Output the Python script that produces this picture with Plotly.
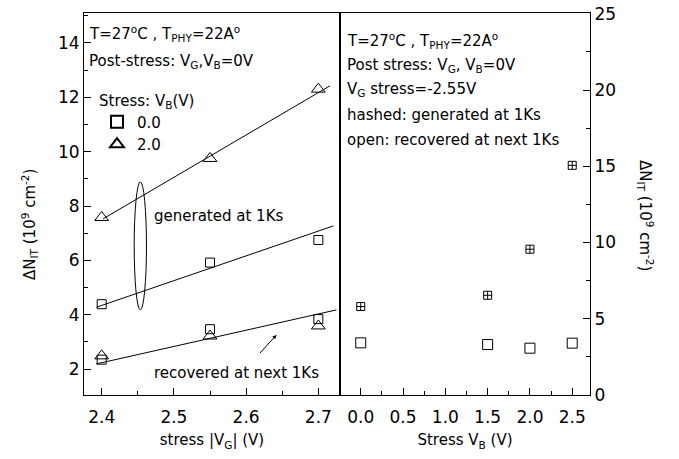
import plotly.graph_objects as go

# ---- data ----
vg = [2.4, 2.55, 2.7]
gen_vb0 = [4.39, 5.92, 6.75]
gen_vb2 = [7.58, 9.75, 12.3]
rec_vb0 = [2.35, 3.47, 3.84]
rec_vb2 = [2.49, 3.22, 3.59]

fit_gen_vb2_x = [2.402, 2.716]
fit_gen_vb2_y = [7.53, 12.42]
fit_gen_vb0_x = [2.393, 2.721]
fit_gen_vb0_y = [4.28, 7.27]
fit_rec_x = [2.392, 2.725]
fit_rec_y = [2.19, 4.18]

vb = [0.0, 1.5, 2.0, 2.5]
gen_right = [5.8, 6.54, 9.56, 15.06]
rec_right = [3.42, 3.31, 3.07, 3.40]

FONT = "DejaVu Sans"
BLK = "black"

L, R, T, B = 84, 679 - 590, 13, 459 - 395
PW = 506.0
PH = 382.0


def px(sx):
    return (sx - 84) / PW


def py(sy):
    return (395 - sy) / PH


fig = go.Figure()

for fx, fy in [(fit_gen_vb2_x, fit_gen_vb2_y), (fit_gen_vb0_x, fit_gen_vb0_y), (fit_rec_x, fit_rec_y)]:
    fig.add_trace(go.Scatter(x=fx, y=fy, mode="lines", line=dict(color=BLK, width=1),
                             showlegend=False, hoverinfo="skip", xaxis="x", yaxis="y"))

sq = dict(symbol="square-open", size=9, color=BLK, line=dict(width=1, color=BLK))
tri = dict(symbol="triangle-up-open", size=12, color=BLK, line=dict(width=1, color=BLK))

fig.add_trace(go.Scatter(x=vg, y=gen_vb0, mode="markers", marker=sq, name="0.0", xaxis="x", yaxis="y"))
fig.add_trace(go.Scatter(x=vg, y=gen_vb2, mode="markers", marker=tri, name="2.0", xaxis="x", yaxis="y"))
fig.add_trace(go.Scatter(x=vg, y=rec_vb0, mode="markers", marker=sq, showlegend=False, xaxis="x", yaxis="y"))
fig.add_trace(go.Scatter(x=vg, y=rec_vb2, mode="markers", marker=tri, showlegend=False, xaxis="x", yaxis="y"))

fig.add_trace(go.Scatter(x=vb, y=gen_right, mode="markers",
                         marker=dict(symbol="square-cross-open", size=8, color=BLK, line=dict(width=1, color=BLK)),
                         showlegend=False, xaxis="x2", yaxis="y2"))
fig.add_trace(go.Scatter(x=vb, y=rec_right, mode="markers",
                         marker=dict(symbol="square-open", size=10, color=BLK, line=dict(width=1, color=BLK)),
                         showlegend=False, xaxis="x2", yaxis="y2"))

split = 256 / PW
ax_common = dict(showline=True, linecolor=BLK, linewidth=1, mirror=True, showgrid=False,
                 zeroline=False, ticks="inside", ticklen=7, tickcolor=BLK, automargin=False,
                 ticklabeloverflow="allow",
                 tickfont=dict(family=FONT, size=17, color=BLK))

fig.update_layout(
    width=679, height=459,
    margin=dict(l=L, r=R, t=T, b=B, autoexpand=False),
    paper_bgcolor="white", plot_bgcolor="white",
    font=dict(family=FONT, color=BLK),
    xaxis=dict(domain=[0, split], range=[2.3755, 2.730], tick0=2.4, dtick=0.1,
               minor=dict(dtick=0.05, ticks="inside", ticklen=4, tickcolor=BLK),
               ticklabelstandoff=7,
               title=dict(text="stress |V<sub>G</sub>| (V)", font=dict(family=FONT, size=15), standoff=8),
               **ax_common),
    yaxis=dict(domain=[0, 1], range=[1.05, 15.1], tick0=2, dtick=2,
               minor=dict(dtick=1, ticks="inside", ticklen=4, tickcolor=BLK),
               anchor="x", **ax_common),
    xaxis2=dict(domain=[split, 1], range=[-0.245, 2.71], tick0=0, dtick=0.5, tickformat=".1f",
                minor=dict(dtick=0.25, ticks="inside", ticklen=4, tickcolor=BLK),
                anchor="y2", ticklabelstandoff=7,
                title=dict(text="Stress V<sub>B</sub> (V)", font=dict(family=FONT, size=15), standoff=8),
                **ax_common),
    yaxis2=dict(domain=[0, 1], range=[0, 25.05], tick0=0, dtick=5, side="right", anchor="x2",
                minor=dict(dtick=2.5, ticks="inside", ticklen=4, tickcolor=BLK),
                **ax_common),
    legend=dict(x=px(97), y=py(86), xanchor="left", yanchor="top",
                bgcolor="rgba(0,0,0,0)", font=dict(family=FONT, size=15, color=BLK),
                title=dict(text="Stress: V<sub>B</sub>(V)", font=dict(family=FONT, size=15, color=BLK)),
                itemsizing="constant", tracegroupgap=0),
)

fig.add_shape(type="circle", xref="x", yref="y", x0=2.445, x1=2.462, y0=4.18, y1=8.89,
              line=dict(color=BLK, width=1))

ann_font = dict(family=FONT, size=15, color=BLK)
left_texts = [
    ("T=27<sup>o</sup>C , T<sub>PHY</sub>=22A<sup>o</sup>", 2.3797, 14.33),
    ("Post-stress: V<sub>G</sub>,V<sub>B</sub>=0V", 2.3797, 13.30),
    ("generated at 1Ks", 2.4693, 7.64),
    ("recovered at next 1Ks", 2.4697, 1.875),
]
for t, x, y in left_texts:
    fig.add_annotation(text=t, x=x, y=y, xref="x", yref="y", xanchor="left", yanchor="middle",
                       showarrow=False, font=ann_font)

fig.add_annotation(x=2.642, y=3.26, ax=2.617, ay=2.53, xref="x", yref="y", axref="x", ayref="y",
                   showarrow=True, arrowhead=2, arrowsize=0.8, arrowwidth=1, arrowcolor=BLK, text="")

right_texts = [
    ("T=27<sup>o</sup>C , T<sub>PHY</sub>=22A<sup>o</sup>", 23.27),
    ("Post stress: V<sub>G</sub>, V<sub>B</sub>=0V", 21.64),
    ("V<sub>G</sub> stress=-2.55V", 20.06),
    ("hashed: generated at 1Ks", 18.39),
    ("open: recovered at next 1Ks", 16.73),
]
for t, y in right_texts:
    fig.add_annotation(text=t, x=px(345), y=y, xref="paper", yref="y2",
                       xanchor="left", yanchor="middle", showarrow=False, font=ann_font)

ytitle = "ΔN<sub>IT</sub> (10<sup>9</sup> cm<sup>-2</sup>)"
fig.add_annotation(text=ytitle, textangle=-90, x=px(29), y=py(225), xref="paper", yref="paper",
                   xanchor="center", yanchor="middle", showarrow=False,
                   font=dict(family=FONT, size=15, color=BLK))
fig.add_annotation(text=ytitle, textangle=90, x=px(646), y=py(215), xref="paper", yref="paper",
                   xanchor="center", yanchor="middle", showarrow=False,
                   font=dict(family=FONT, size=15, color=BLK))

fig.write_html("out.html", config={"displayModeBar": False},
               post_script="document.body.style.margin='0';")
